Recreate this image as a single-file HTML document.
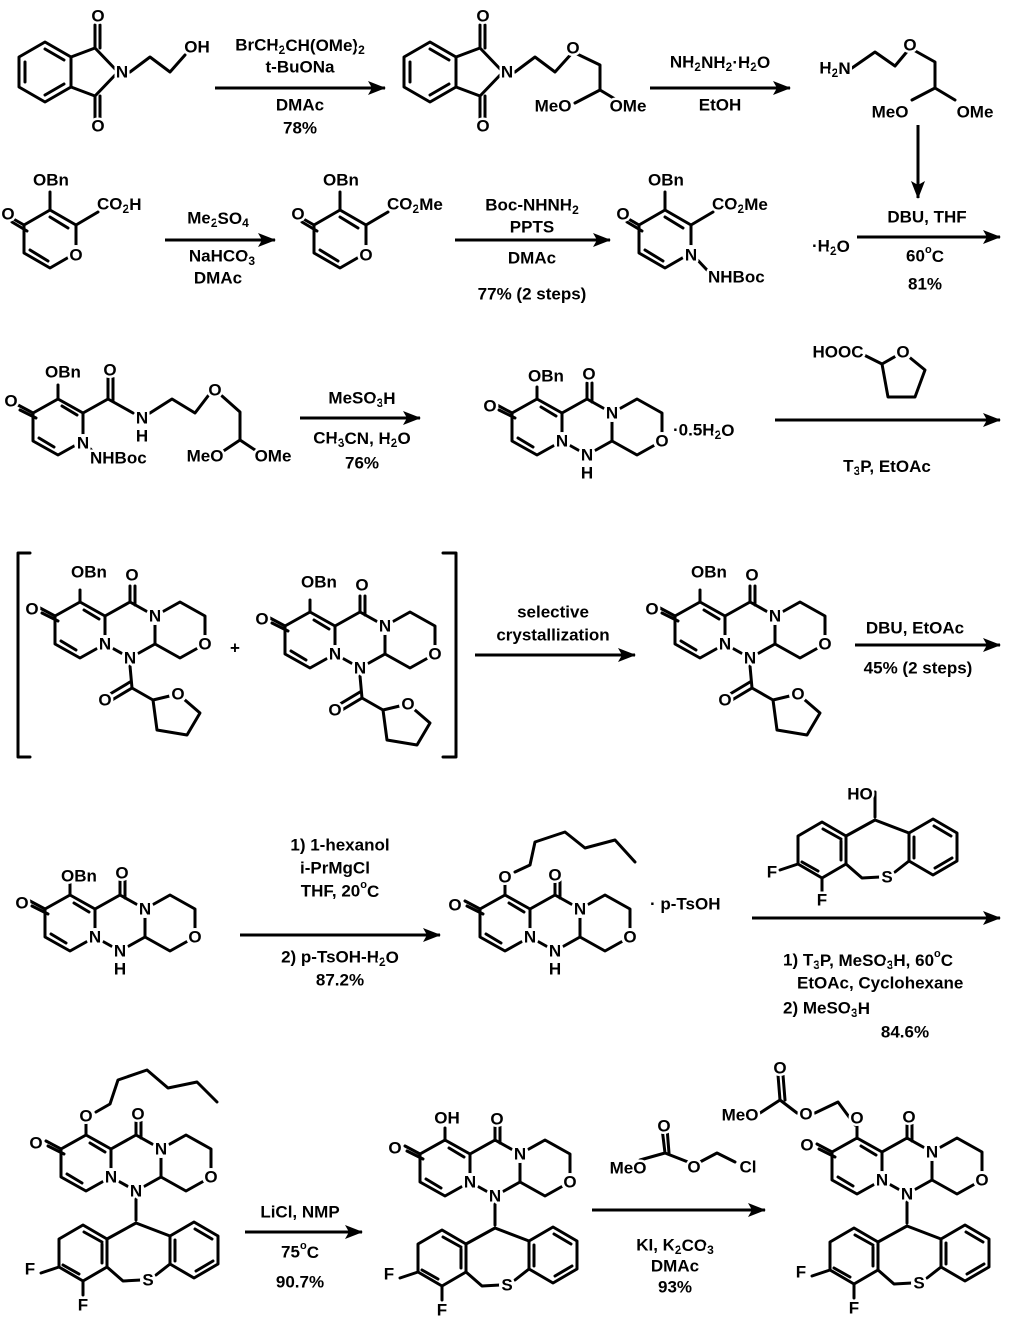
<!DOCTYPE html>
<html><head><meta charset="utf-8">
<style>
html,body{margin:0;padding:0;background:#fff;}
svg{display:block;}
.t{font-family:"Liberation Sans",Arial,sans-serif;font-size:17px;font-weight:bold;text-anchor:middle;dominant-baseline:central;fill:#000;stroke:#fff;stroke-width:5px;paint-order:stroke;stroke-linejoin:round;}
.s{text-anchor:start;}
.e{text-anchor:end;}
.b{stroke:#000;stroke-width:3;fill:none;stroke-linejoin:round;stroke-linecap:round;}
.ar{stroke:#000;stroke-width:3;fill:none;}
.w{fill:#fff;stroke:none;}
</style></head>
<body>
<svg width="1010" height="1323" viewBox="0 0 1010 1323" xmlns="http://www.w3.org/2000/svg">
<defs>
<marker id="ah" markerWidth="18" markerHeight="14" refX="17" refY="7" orient="auto" markerUnits="userSpaceOnUse">
<path d="M0,0 L18,7 L0,14 L4,7 Z" fill="#000"/>
</marker>
<g id="core">
<g class="b">
<path d="M0,-28 L25,-14 L25,14 L0,28 L-25,14 L-25,-14 Z"/>
<path d="M25,-14 L50,-28 L75,-14 M75,14 L50,28 L25,14"/>
<path d="M75,-14 L75,14 L100,28 L125,14 L125,-14 L100,-28 Z"/>
<path d="M4,-20 L19,-11 M-19,11 L-4,20"/>
<path d="M-25,-14 L-40,-22 M-22,-9 L-38,-17"/>
<path d="M0,-28 L0,-40"/>
<path d="M50,-28 L50,-44 M55,-25 L55,-44"/>
</g>
<circle class="w" cx="75" cy="-14" r="9"/>
<circle class="w" cx="25" cy="14" r="9"/>
<circle class="w" cx="50" cy="28" r="9"/>
<circle class="w" cx="125" cy="14" r="9"/>
</g>
<g id="thf">
<g class="b">
<path d="M50,36 L52,58 L73,70 L98,64 L120,83 L107,105 L77,100 L73,70"/>
<path d="M52,58 L32,70 M50,52 L30,64"/>
</g>
<circle class="w" cx="98" cy="64" r="9"/>
</g>
<g id="thiep">
<g class="b">
<path d="M-53,2 L-29,16 L-29,44 L-53,58 L-77,44 L-77,16 Z"/>
<path d="M58,-1 L82,13 L82,41 L58,55 L34,41 L34,13 Z"/>
<path d="M0,0 L-29,16 M0,0 L34,13 M-29,44 L-13,58 L5,57 M20,52 L34,41"/>
<path d="M-77,44 L-95,50 M-53,58 L-53,72"/>
<path d="M-52,9 L-34,19 M-34,40 L-34,21 M-57,51 L-73,42 M59,6 L76,16 M77,38 L60,48 M39,38 L39,17"/>
<path d="M0,-3 L0,-28"/>
</g>
<circle class="w" cx="12" cy="57" r="8"/>
</g>
</defs>

<!-- ROW 1 -->
<g class="b">
<path d="M45,42 L71,57 L71,87 L45,102 L19,87 L19,57 Z M45,49 L64,60 M64,84 L45,95 M25,62 L25,82"/>
<path d="M71,57 L95,48 L118,72 L95,96 L71,87 M95,48 L95,25 M100,48 L100,25 M95,96 L95,118 M100,96 L100,118"/>
<path d="M130,72 L150,57 L170,72 L185,55"/>
</g>
<text class="t" x="98" y="16">O</text><text class="t" x="98" y="126">O</text>
<text class="t" x="122" y="72">N</text><text class="t" x="197" y="47">OH</text>

<line class="ar" x1="215" y1="88" x2="385" y2="88" marker-end="url(#ah)"/>
<text class="t" x="300" y="45">BrCH<tspan font-size="12" dy="5">2</tspan><tspan dy="-5">CH(OMe)</tspan><tspan font-size="12" dy="5">2</tspan></text>
<text class="t" x="300" y="67">t-BuONa</text>
<text class="t" x="300" y="105">DMAc</text>
<text class="t" x="300" y="128">78%</text>

<g class="b" transform="translate(385,0)">
<path d="M45,42 L71,57 L71,87 L45,102 L19,87 L19,57 Z M45,49 L64,60 M64,84 L45,95 M25,62 L25,82"/>
<path d="M71,57 L95,48 L118,72 L95,96 L71,87 M95,48 L95,25 M100,48 L100,25 M95,96 L95,118 M100,96 L100,118"/>
<path d="M130,72 L150,57 L170,72 L188,52 L215,65 L215,90 L190,103 M215,90 L235,102"/>
</g>
<text class="t" x="483" y="16">O</text><text class="t" x="483" y="126">O</text>
<text class="t" x="507" y="72">N</text><text class="t" x="573" y="48">O</text>
<text class="t" x="553" y="106">MeO</text><text class="t" x="628" y="106">OMe</text>

<line class="ar" x1="650" y1="88" x2="790" y2="88" marker-end="url(#ah)"/>
<text class="t" x="720" y="62">NH<tspan font-size="12" dy="5">2</tspan><tspan dy="-5">NH</tspan><tspan font-size="12" dy="5">2</tspan><tspan dy="-5">·H</tspan><tspan font-size="12" dy="5">2</tspan><tspan dy="-5">O</tspan></text>
<text class="t" x="720" y="105">EtOH</text>

<g class="b"><path d="M852,68 L875,52 L895,66 L910,48 L935,62 L935,88 L912,100 M935,88 L955,100"/></g>
<text class="t" x="835" y="68">H<tspan font-size="12" dy="5">2</tspan><tspan dy="-5">N</tspan></text>
<text class="t" x="910" y="45">O</text>
<text class="t" x="890" y="112">MeO</text><text class="t" x="975" y="112">OMe</text>
<line class="ar" x1="918" y1="125" x2="918" y2="198" marker-end="url(#ah)"/>

<!-- ROW 2 -->
<g class="b">
<path d="M50,210 L76,225 L76,253 L50,268 L24,253 L24,225 Z M50,217 L68,228 M30,250 L48,261"/>
<path d="M50,210 L50,192 M24,225 L10,217 M27,231 L12,222 M76,225 L98,212"/>
</g>
<circle class="w" cx="76" cy="254" r="9"/>
<text class="t s" x="33" y="180">OBn</text>
<text class="t" x="8" y="214">O</text>
<text class="t" x="76" y="255">O</text>
<text class="t s" x="97" y="204">CO<tspan font-size="12" dy="5">2</tspan><tspan dy="-5">H</tspan></text>

<line class="ar" x1="165" y1="240" x2="275" y2="240" marker-end="url(#ah)"/>
<text class="t" x="218" y="218">Me<tspan font-size="12" dy="5">2</tspan><tspan dy="-5">SO</tspan><tspan font-size="12" dy="5">4</tspan></text>
<text class="t" x="222" y="256">NaHCO<tspan font-size="12" dy="5">3</tspan></text>
<text class="t" x="218" y="278">DMAc</text>

<g class="b" transform="translate(290,0)">
<path d="M50,210 L76,225 L76,253 L50,268 L24,253 L24,225 Z M50,217 L68,228 M30,250 L48,261"/>
<path d="M50,210 L50,192 M24,225 L10,217 M27,231 L12,222 M76,225 L98,212"/>
</g>
<circle class="w" cx="366" cy="254" r="9"/>
<text class="t s" x="323" y="180">OBn</text>
<text class="t" x="298" y="214">O</text>
<text class="t" x="366" y="255">O</text>
<text class="t s" x="387" y="204">CO<tspan font-size="12" dy="5">2</tspan><tspan dy="-5">Me</tspan></text>

<line class="ar" x1="455" y1="240" x2="610" y2="240" marker-end="url(#ah)"/>
<text class="t" x="532" y="205">Boc-NHNH<tspan font-size="12" dy="5">2</tspan></text>
<text class="t" x="532" y="227">PPTS</text>
<text class="t" x="532" y="258">DMAc</text>
<text class="t" x="532" y="294">77% (2 steps)</text>

<g class="b" transform="translate(615,0)">
<path d="M50,210 L76,225 L76,253 L50,268 L24,253 L24,225 Z M50,217 L68,228 M30,250 L48,261"/>
<path d="M50,210 L50,192 M24,225 L10,217 M27,231 L12,222 M76,225 L98,212 M76,253 L92,270"/>
</g>
<circle class="w" cx="691" cy="254" r="9"/>
<text class="t s" x="648" y="180">OBn</text>
<text class="t" x="623" y="214">O</text>
<text class="t" x="691" y="255">N</text>
<text class="t s" x="712" y="204">CO<tspan font-size="12" dy="5">2</tspan><tspan dy="-5">Me</tspan></text>
<text class="t s" x="708" y="277">NHBoc</text>
<text class="t s" x="812" y="246">·H<tspan font-size="12" dy="5">2</tspan><tspan dy="-5">O</tspan></text>

<line class="ar" x1="857" y1="237" x2="1000" y2="237" marker-end="url(#ah)"/>
<text class="t" x="927" y="217">DBU, THF</text>
<text class="t" x="925" y="256">60<tspan font-size="11" dy="-6">o</tspan><tspan dy="6">C</tspan></text>
<text class="t" x="925" y="284">81%</text>

<!-- ROW 3 -->
<g class="b">
<path d="M58,399 L83,413 L83,441 L58,455 L33,441 L33,413 Z M62,406 L77,415 M39,438 L54,447"/>
<path d="M58,399 L58,385 M33,413 L18,405 M36,418 L20,410"/>
<path d="M83,413 L108,399 L108,378 M113,401 L113,378 M108,399 L133,413"/>
<path d="M150,413 L172,399 L195,413 L208,396 M222,396 L240,412 L240,440 L222,452 M240,440 L258,452"/>
<path d="M83,441 L96,455"/>
</g>
<circle class="w" cx="83" cy="443" r="9"/>
<text class="t s" x="45" y="372">OBn</text>
<text class="t" x="11" y="401">O</text>
<text class="t" x="110" y="370">O</text>
<text class="t" x="142" y="418">N</text><text class="t" x="142" y="436">H</text>
<text class="t" x="215" y="390">O</text>
<text class="t" x="83" y="443">N</text>
<text class="t s" x="90" y="458">NHBoc</text>
<text class="t" x="205" y="456">MeO</text><text class="t" x="273" y="456">OMe</text>

<line class="ar" x1="300" y1="418" x2="420" y2="418" marker-end="url(#ah)"/>
<text class="t" x="362" y="398">MeSO<tspan font-size="12" dy="5">3</tspan><tspan dy="-5">H</tspan></text>
<text class="t" x="362" y="438">CH<tspan font-size="12" dy="5">3</tspan><tspan dy="-5">CN, H</tspan><tspan font-size="12" dy="5">2</tspan><tspan dy="-5">O</tspan></text>
<text class="t" x="362" y="463">76%</text>

<use href="#core" x="537" y="427"/>
<text class="t" x="490" y="406">O</text>
<text class="t s" x="528" y="376">OBn</text>
<text class="t" x="589" y="374">O</text>
<text class="t" x="612" y="413">N</text>
<text class="t" x="562" y="441">N</text>
<text class="t" x="587" y="455">N</text><text class="t" x="587" y="473">H</text>
<text class="t" x="662" y="441">O</text>
<text class="t s" x="673" y="430">·0.5H<tspan font-size="12" dy="5">2</tspan><tspan dy="-5">O</tspan></text>

<line class="ar" x1="775" y1="420" x2="1000" y2="420" marker-end="url(#ah)"/>
<g class="b"><path d="M862,354 L882,364 L903,352 L925,370 L915,397 L888,397 L882,364"/></g>
<circle class="w" cx="903" cy="352" r="9"/>
<text class="t" x="838" y="352">HOOC</text>
<text class="t" x="903" y="352">O</text>
<text class="t" x="887" y="466">T<tspan font-size="12" dy="5">3</tspan><tspan dy="-5">P, EtOAc</tspan></text>

<!-- ROW 4 -->
<path class="b" d="M30,553 L18,553 L18,757 L30,757 M443,553 L456,553 L456,757 L443,757"/>
<use href="#core" x="80" y="630"/>
<use href="#thf" x="80" y="630"/>
<text class="t" x="32" y="609">O</text>
<text class="t s" x="71" y="572">OBn</text>
<text class="t" x="132" y="575">O</text>
<text class="t" x="155" y="616">N</text>
<text class="t" x="105" y="644">N</text>
<text class="t" x="130" y="658">N</text>
<text class="t" x="205" y="644">O</text>
<text class="t" x="105" y="700">O</text>
<text class="t" x="178" y="694">O</text>
<text class="t" x="235" y="648">+</text>

<use href="#core" x="310" y="640"/>
<use href="#thf" x="310" y="640"/>
<text class="t" x="262" y="619">O</text>
<text class="t s" x="301" y="582">OBn</text>
<text class="t" x="362" y="585">O</text>
<text class="t" x="385" y="626">N</text>
<text class="t" x="335" y="654">N</text>
<text class="t" x="360" y="668">N</text>
<text class="t" x="435" y="654">O</text>
<text class="t" x="335" y="710">O</text>
<text class="t" x="408" y="704">O</text>

<line class="ar" x1="475" y1="655" x2="635" y2="655" marker-end="url(#ah)"/>
<text class="t" x="553" y="612">selective</text>
<text class="t" x="553" y="635">crystallization</text>

<use href="#core" x="700" y="630"/>
<use href="#thf" x="700" y="630"/>
<text class="t" x="652" y="609">O</text>
<text class="t s" x="691" y="572">OBn</text>
<text class="t" x="752" y="575">O</text>
<text class="t" x="775" y="616">N</text>
<text class="t" x="725" y="644">N</text>
<text class="t" x="750" y="658">N</text>
<text class="t" x="825" y="644">O</text>
<text class="t" x="725" y="700">O</text>
<text class="t" x="798" y="694">O</text>

<line class="ar" x1="855" y1="645" x2="1000" y2="645" marker-end="url(#ah)"/>
<text class="t" x="915" y="628">DBU, EtOAc</text>
<text class="t" x="918" y="668">45% (2 steps)</text>

<!-- ROW 5 -->
<use href="#core" x="70" y="923"/>
<text class="t" x="22" y="903">O</text>
<text class="t s" x="61" y="876">OBn</text>
<text class="t" x="122" y="873">O</text>
<text class="t" x="145" y="909">N</text>
<text class="t" x="95" y="937">N</text>
<text class="t" x="120" y="951">N</text><text class="t" x="120" y="969">H</text>
<text class="t" x="195" y="937">O</text>

<line class="ar" x1="240" y1="935" x2="440" y2="935" marker-end="url(#ah)"/>
<text class="t" x="340" y="845">1) 1-hexanol</text>
<text class="t" x="335" y="868">i-PrMgCl</text>
<text class="t" x="340" y="891">THF, 20<tspan font-size="11" dy="-6">o</tspan><tspan dy="6">C</tspan></text>
<text class="t" x="340" y="957">2) p-TsOH-H<tspan font-size="12" dy="5">2</tspan><tspan dy="-5">O</tspan></text>
<text class="t" x="340" y="980">87.2%</text>

<use href="#core" x="505" y="923"/>
<path class="b" d="M515,872 L530,865 L535,842 L565,832 L585,848 L615,840 L635,862"/>
<text class="t" x="455" y="905">O</text>
<text class="t" x="505" y="877">O</text>
<text class="t" x="555" y="875">O</text>
<text class="t" x="580" y="909">N</text>
<text class="t" x="530" y="937">N</text>
<text class="t" x="555" y="951">N</text><text class="t" x="555" y="969">H</text>
<text class="t" x="630" y="937">O</text>
<text class="t s" x="650" y="904">· p-TsOH</text>

<use href="#thiep" x="875" y="820"/>
<text class="t" x="860" y="794">HO</text>
<text class="t" x="772" y="872">F</text>
<text class="t" x="822" y="900">F</text>
<text class="t" x="887" y="877">S</text>
<line class="ar" x1="752" y1="918" x2="1000" y2="918" marker-end="url(#ah)"/>
<text class="t s" x="783" y="960">1) T<tspan font-size="12" dy="5">3</tspan><tspan dy="-5">P, MeSO</tspan><tspan font-size="12" dy="5">3</tspan><tspan dy="-5">H, 60</tspan><tspan font-size="11" dy="-6">o</tspan><tspan dy="6">C</tspan></text>
<text class="t s" x="797" y="983">EtOAc, Cyclohexane</text>
<text class="t s" x="783" y="1008">2) MeSO<tspan font-size="12" dy="5">3</tspan><tspan dy="-5">H</tspan></text>
<text class="t" x="905" y="1032">84.6%</text>

<!-- ROW 6 -->
<use href="#core" x="86" y="1163"/>
<path class="b" d="M96,1112 L110,1104 L118,1080 L147,1070 L168,1088 L197,1082 L217,1102"/>
<use href="#thiep" x="136" y="1223"/>
<text class="t" x="36" y="1143">O</text>
<text class="t" x="86" y="1116">O</text>
<text class="t" x="138" y="1114">O</text>
<text class="t" x="161" y="1149">N</text>
<text class="t" x="111" y="1177">N</text>
<text class="t" x="136" y="1191">N</text>
<text class="t" x="211" y="1177">O</text>
<text class="t" x="30" y="1269">F</text>
<text class="t" x="83" y="1305">F</text>
<text class="t" x="148" y="1280">S</text>

<line class="ar" x1="245" y1="1232" x2="362" y2="1232" marker-end="url(#ah)"/>
<text class="t" x="300" y="1212">LiCl, NMP</text>
<text class="t" x="300" y="1252">75<tspan font-size="11" dy="-6">o</tspan><tspan dy="6">C</tspan></text>
<text class="t" x="300" y="1282">90.7%</text>

<use href="#core" x="445" y="1168"/>
<use href="#thiep" x="495" y="1228"/>
<text class="t" x="395" y="1148">O</text>
<text class="t" x="447" y="1118">OH</text>
<text class="t" x="497" y="1119">O</text>
<text class="t" x="520" y="1154">N</text>
<text class="t" x="470" y="1182">N</text>
<text class="t" x="495" y="1196">N</text>
<text class="t" x="570" y="1182">O</text>
<text class="t" x="389" y="1274">F</text>
<text class="t" x="442" y="1310">F</text>
<text class="t" x="507" y="1285">S</text>

<g class="b"><path d="M640,1160 L665,1153 L688,1162 M665,1153 L662,1128 M669,1153 L667,1128 M700,1162 L717,1153 L735,1162"/></g>
<text class="t" x="664" y="1126">O</text>
<text class="t" x="628" y="1168">MeO</text>
<text class="t" x="694" y="1167">O</text>
<text class="t" x="748" y="1167">Cl</text>
<line class="ar" x1="592" y1="1210" x2="765" y2="1210" marker-end="url(#ah)"/>
<text class="t" x="675" y="1245">KI, K<tspan font-size="12" dy="5">2</tspan><tspan dy="-5">CO</tspan><tspan font-size="12" dy="5">3</tspan></text>
<text class="t" x="675" y="1266">DMAc</text>
<text class="t" x="675" y="1287">93%</text>

<use href="#core" x="857" y="1166"/>
<use href="#thiep" x="907" y="1226"/>
<g class="b"><path d="M855,1125 L838,1102 L815,1113 M797,1113 L780,1100 L760,1113 M780,1100 L778,1075 M785,1100 L783,1075"/></g>
<text class="t" x="807" y="1145">O</text>
<text class="t" x="857" y="1118">O</text>
<text class="t" x="909" y="1117">O</text>
<text class="t" x="806" y="1114">O</text>
<text class="t" x="780" y="1068">O</text>
<text class="t" x="740" y="1115">MeO</text>
<text class="t" x="932" y="1152">N</text>
<text class="t" x="882" y="1180">N</text>
<text class="t" x="907" y="1194">N</text>
<text class="t" x="982" y="1180">O</text>
<text class="t" x="801" y="1272">F</text>
<text class="t" x="854" y="1308">F</text>
<text class="t" x="919" y="1283">S</text>
</svg>
</body></html>
